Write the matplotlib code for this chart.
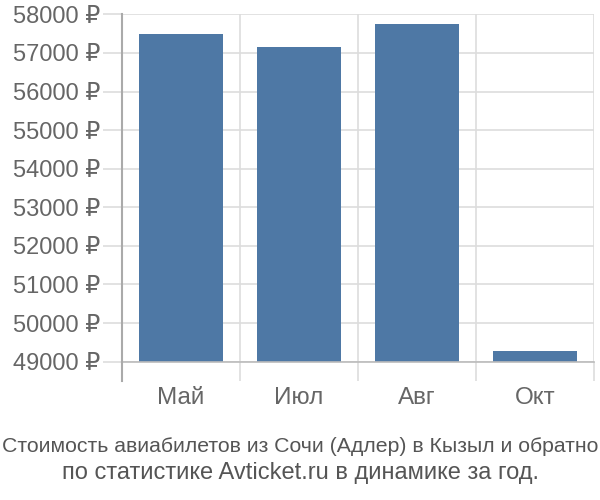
import matplotlib.pyplot as plt
import numpy as np

plt.rcParams['font.family'] = ['Liberation Sans', 'DejaVu Sans']

months = ['Май', 'Июл', 'Авг', 'Окт']
prices = [57480, 57150, 57740, 49280]
y_ticks = list(range(49000, 58001, 1000))

fig = plt.figure(figsize=(6, 5), dpi=100)
ax = fig.add_axes([122 / 600, 1 - 361.7 / 500, 472 / 600, (361.7 - 14.3) / 500])

x = np.arange(len(months))
ax.bar(x, np.array(prices) - 49000, bottom=49000, width=0.72,
       color='#4e78a5', zorder=3)

ax.set_xlim(-0.5, len(months) - 0.5)
ax.set_ylim(49000, 58000)

# сітка
ax.set_yticks(y_ticks)
ax.set_yticklabels([f'{v} ₽' for v in y_ticks])
ax.set_xticks(x)
ax.set_xticklabels(months)
ax.set_xticks(np.arange(-0.5, len(months)), minor=True)
ax.grid(axis='y', color='#dddddd', lw=1.2, zorder=0)
ax.grid(axis='x', which='minor', color='#dddddd', lw=1.2, zorder=0)

ax.tick_params(axis='y', length=13.7, color='#dddddd', width=1.2,
               labelsize=17, labelcolor='#666666', pad=2)
ax.tick_params(axis='x', which='major', length=0, labelsize=17.5,
               labelcolor='#666666', pad=18)
ax.tick_params(axis='x', which='minor', length=13.7, color='#dddddd', width=1.2)

for s in ['top', 'right']:
    ax.spines[s].set_visible(False)
ax.spines['bottom'].set_color('#bbbbbb')
ax.spines['bottom'].set_linewidth(1.2)
ax.spines['bottom'].set_zorder(4)
ax.spines['left'].set_color('#aaaaaa')
ax.spines['left'].set_linewidth(1.5)
ax.plot([0, 0], [0, -19.3 / 347.4], transform=ax.transAxes, color='#aaaaaa',
        lw=1.5, clip_on=False, zorder=5)

fig.text(0.5, 1 - 446 / 500, 'Стоимость авиабилетов из Сочи (Адлер) в Кызыл и обратно',
         ha='center', va='center', fontsize=15.3, color='#555555')
fig.text(0.5, 1 - 473 / 500, 'по статистике Avticket.ru в динамике за год.',
         ha='center', va='center', fontsize=17, color='#555555')

plt.savefig('out.png')
